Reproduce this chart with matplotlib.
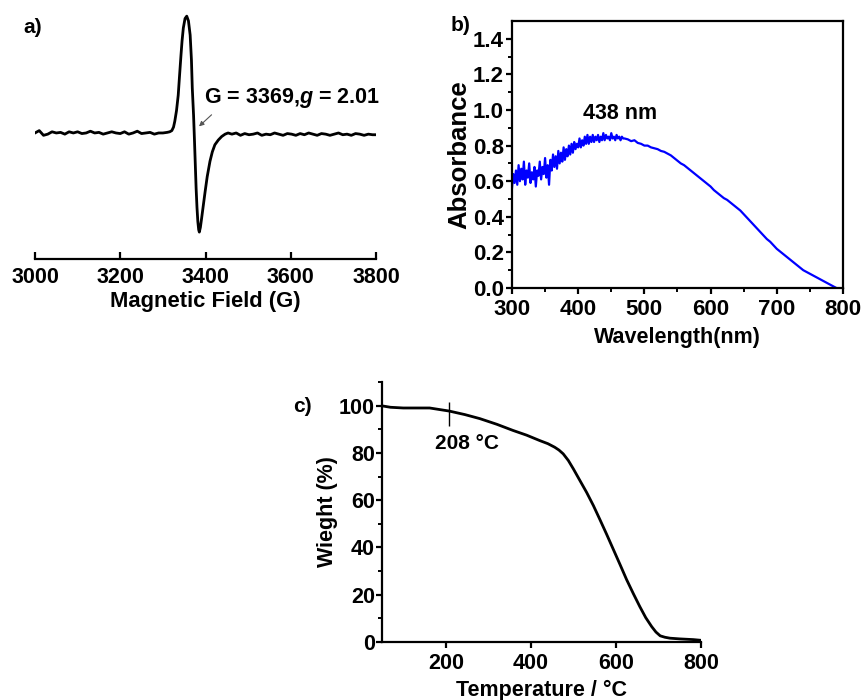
import matplotlib
matplotlib.use('Agg')
import matplotlib.pyplot as plt
import numpy as np

plt.rcParams['font.family'] = ['Liberation Sans', 'DejaVu Sans']
plt.rcParams['font.weight'] = 'bold'
plt.rcParams['mathtext.fontset'] = 'custom'
plt.rcParams['mathtext.it'] = 'Liberation Sans:italic:bold'
plt.rcParams['mathtext.rm'] = 'Liberation Sans:bold'

# a) EPR spectrum (field in G, derivative signal in a.u.)
epr_field = [3000, 3010, 3020, 3030, 3040, 3050, 3060, 3070, 3080, 3090,
             3100, 3110, 3120, 3130, 3140, 3150, 3160, 3170, 3180, 3190,
             3200, 3210, 3220, 3230, 3240, 3250, 3260, 3270, 3280, 3290,
             3300, 3310, 3316, 3321, 3325, 3328, 3332, 3336, 3339, 3342.5,
             3345, 3348, 3352, 3356, 3360, 3364, 3367, 3369, 3372, 3374,
             3376, 3378, 3380, 3382, 3384, 3385.5, 3388, 3391, 3395, 3399,
             3404, 3410.5, 3416, 3422, 3430, 3438, 3446, 3453,
             3462, 3472, 3482, 3492, 3502, 3512, 3522, 3532, 3542, 3552,
             3562, 3572, 3582, 3592, 3602, 3612, 3622, 3632, 3642, 3652,
             3662, 3672, 3682, 3692, 3702, 3712, 3722, 3732, 3742, 3752,
             3762, 3772, 3782, 3792, 3800]
epr_signal = [0.00, 0.02, -0.02, -0.01, 0.01, 0.00, 0.005, -0.01, 0.01, 0.00,
              0.01, -0.005, 0.00, 0.015, 0.00, 0.005, -0.01, 0.00, 0.01, 0.00,
              -0.005, 0.01, -0.01, 0.00, 0.015, -0.005, 0.00, 0.005, -0.01, 0.00,
              0.00, 0.005, 0.01, 0.02, 0.05, 0.10, 0.19, 0.32, 0.48, 0.66,
              0.78, 0.89, 0.97, 0.99, 0.95, 0.83, 0.62, 0.38, 0.15, -0.05,
              -0.26, -0.47, -0.63, -0.75, -0.82, -0.84, -0.80, -0.72, -0.61, -0.50,
              -0.37, -0.24, -0.16, -0.10, -0.06, -0.03, -0.01, 0.00,
              -0.01, 0.00, -0.02, -0.005, -0.015, -0.01, 0.00, -0.02, -0.01, -0.015,
              0.00, -0.01, -0.02, -0.005, -0.01, -0.02, -0.005, -0.015, 0.00, -0.01,
              -0.02, -0.005, -0.01, -0.02, -0.01, 0.00, -0.015, -0.01, -0.02, -0.005,
              -0.01, -0.02, -0.01, -0.015, -0.015]

# b) UV-Vis absorbance
uv_wl = list(range(300, 471, 2)) + list(range(475, 800, 5))
uv_abs = [0.56, 0.64, 0.59, 0.66, 0.58, 0.69, 0.60, 0.67, 0.61, 0.71,
          0.58, 0.66, 0.62, 0.70, 0.59, 0.65, 0.61, 0.68, 0.57, 0.66,
          0.63, 0.71, 0.61, 0.68, 0.64, 0.73, 0.62, 0.69, 0.58, 0.72,
          0.66, 0.75, 0.68, 0.74, 0.67, 0.77, 0.70, 0.76, 0.71, 0.79,
          0.72, 0.78, 0.74, 0.80, 0.75, 0.81, 0.76, 0.82, 0.78, 0.81,
          0.79, 0.84, 0.79, 0.83, 0.80, 0.85, 0.81, 0.86, 0.81, 0.85,
          0.82, 0.86, 0.82, 0.85, 0.83, 0.86, 0.82, 0.85, 0.83, 0.87,
          0.83, 0.86, 0.84, 0.85, 0.83, 0.87, 0.84, 0.85, 0.83, 0.86,
          0.84, 0.85, 0.83, 0.85, 0.84, 0.84,
          0.835, 0.825, 0.83, 0.815, 0.81, 0.80, 0.80, 0.79, 0.785, 0.78,
          0.77, 0.765, 0.755, 0.745, 0.73, 0.715, 0.70, 0.69, 0.675, 0.66,
          0.645, 0.63, 0.615, 0.60, 0.585, 0.57, 0.55, 0.535, 0.52, 0.505,
          0.495, 0.48, 0.465, 0.45, 0.435, 0.415, 0.395, 0.375, 0.355, 0.335,
          0.315, 0.295, 0.275, 0.26, 0.24, 0.22, 0.205, 0.19, 0.175, 0.16,
          0.145, 0.13, 0.115, 0.10, 0.09, 0.08, 0.07, 0.06, 0.05, 0.04,
          0.03, 0.02, 0.01, 0.00, -0.005]

# c) TGA
tga_T = [50, 70, 100, 130, 162, 208, 245, 280, 320, 358, 390, 421, 440,
         456, 466, 476, 488, 500, 515, 531, 547, 562, 578, 594, 610, 625,
         641, 656, 670, 684, 694, 704, 715, 727, 750, 782, 800]
tga_w = [99.9, 99.3, 99.0, 99.0, 99.0, 97.7, 96.2, 94.5, 92.1, 89.5, 87.5,
         85.2, 83.9, 82.4, 81.2, 79.6, 76.8, 73.2, 68.4, 63.3, 57.7, 51.9,
         45.6, 39.1, 32.6, 26.4, 20.4, 15.0, 10.3, 6.5, 4.2, 2.6, 2.0, 1.6,
         1.3, 1.0, 0.7]
mark_T = 208

fig = plt.figure(figsize=(8.66, 7.0), dpi=100)

# ---- a)
ax1 = fig.add_axes([0.0404, 0.63, 0.3938, 0.3557])
ax1.plot(epr_field, epr_signal, color='black', lw=2.0)
ax1.set_xlim(3000, 3800)
ax1.set_ylim(-1.068, 1.042)
for s in ['top', 'right', 'left']:
    ax1.spines[s].set_visible(False)
ax1.spines['bottom'].set_linewidth(1.6)
ax1.set_yticks([])
ax1.set_xticks([3000, 3200, 3400, 3600, 3800])
ax1.tick_params(axis='x', direction='in', length=5, width=1.6, labelsize=15.5, pad=6)
ax1.set_xlabel('Magnetic Field (G)', fontsize=15.8, fontweight='bold', labelpad=2)
ax1.text(3397, 0.30, 'G = 3369,$\\mathit{g}$ = 2.01', fontsize=15.5, fontweight='bold',
         ha='left', va='center')
ax1.annotate('', xy=(3380, 0.04), xytext=(3419, 0.17),
             arrowprops=dict(arrowstyle='-|>', color='#555555', lw=0.8, mutation_scale=7))
fig.text(0.038, 0.961, 'a)', fontsize=15, fontweight='bold', ha='center', va='center')

# ---- b)
ax2 = fig.add_axes([0.5912, 0.5886, 0.3822, 0.3814])
ax2.plot(uv_wl, uv_abs, color='#0000ff', lw=1.6)
ax2.set_xlim(300, 800)
ax2.set_ylim(0, 1.5)
ax2.set_xticks([300, 400, 500, 600, 700, 800])
ax2.set_xticks([350, 450, 550, 650, 750], minor=True)
ax2.set_yticks([0.0, 0.2, 0.4, 0.6, 0.8, 1.0, 1.2, 1.4])
ax2.set_yticks(np.arange(0.1, 1.5, 0.2), minor=True)
ax2.yaxis.set_major_formatter(matplotlib.ticker.FormatStrFormatter('%.1f'))
for s in ax2.spines.values():
    s.set_linewidth(1.6)
ax2.tick_params(which='major', direction='out', length=4, width=1.6, labelsize=16)
ax2.tick_params(which='minor', direction='out', length=3, width=1.4)
ax2.tick_params(axis='y', pad=2)
ax2.tick_params(axis='x', pad=4)
ax2.set_xlabel('Wavelength(nm)', fontsize=15.5, fontweight='bold', labelpad=5)
ax2.set_ylabel('Absorbance', fontsize=18.5, fontweight='bold', labelpad=1)
ax2.text(463, 0.98, '438 nm', fontsize=15.5, fontweight='bold', ha='center', va='center')
fig.text(0.532, 0.964, 'b)', fontsize=15, fontweight='bold', ha='center', va='center')

# ---- c)
ax3 = fig.add_axes([0.4411, 0.0829, 0.3684, 0.3714])
ax3.plot(tga_T, tga_w, color='black', lw=2.0)
ax3.vlines(mark_T, 91.5, 101.7, color='black', lw=1.0)
ax3.set_xlim(50, 800)
ax3.set_ylim(0, 110)
for s in ['top', 'right']:
    ax3.spines[s].set_visible(False)
for s in ['left', 'bottom']:
    ax3.spines[s].set_linewidth(1.6)
ax3.set_xticks([200, 400, 600, 800])
ax3.set_yticks([0, 20, 40, 60, 80, 100])
ax3.set_yticks([10, 30, 50, 70, 90, 110], minor=True)
ax3.tick_params(which='major', direction='out', length=4, width=1.6, labelsize=15.5)
ax3.tick_params(which='minor', direction='out', length=3, width=1.4)
ax3.tick_params(axis='y', pad=1)
ax3.tick_params(axis='x', pad=4)
ax3.set_xlabel('Temperature / \u00b0C', fontsize=15.5, fontweight='bold', labelpad=4)
ax3.set_ylabel('Wieght (%)', fontsize=15.5, fontweight='bold', labelpad=1)
ax3.text(249, 84, '208 \u00b0C', fontsize=15, fontweight='bold', ha='center', va='center')
fig.text(0.349, 0.419, 'c)', fontsize=15, fontweight='bold', ha='center', va='center')

fig.savefig('out.png', dpi=100)
